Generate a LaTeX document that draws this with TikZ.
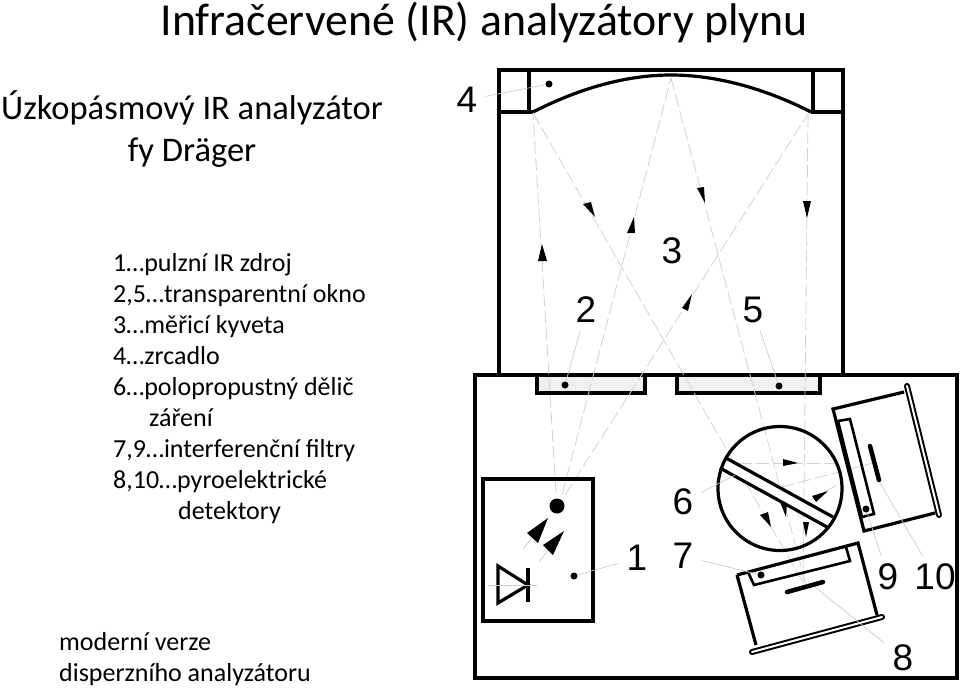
\documentclass[tikz,border=0pt]{standalone}
\usepackage{fontspec}
\setmainfont{Carlito}
\newfontfamily\digitfont{Liberation Sans}
\begin{document}
\begin{tikzpicture}[
    x=1pt, y=-1pt,
    wall/.style={draw=black, line width=3.2pt, line join=miter},
    pane/.style={rectangle, draw=black, line width=3.2pt, fill=gray!12, inner sep=0pt},
    spot/.style={circle, fill=black, inner sep=0pt, minimum size=7pt},
    beam/.style={draw=gray!35, line width=0.8pt, dash pattern=on 13pt off 4pt},
    leader/.style={draw=gray!40, line width=0.7pt},
    head/.style={fill=black},
    num/.style={font=\digitfont\fontsize{37}{37}\selectfont, inner sep=8pt},
    plate/.style={draw=black, line width=2pt, double=white, double distance=2pt, line cap=round},
    bar/.style={draw=black, line width=4.5pt, line cap=round}
]
    \useasboundingbox (0,0) rectangle (960,688);

    % Texts
    \node [font=\fontsize{45.8}{46}\selectfont] (title) at (484,22) {Infračervené (IR) analyzátory plynu};
    \node [font=\fontsize{34.5}{42}\selectfont, align=center] (sub) at (192,129) {Úzkopásmový IR analyzátor\\fy Dräger};
    \node [font=\fontsize{26}{31}\selectfont, align=left, anchor=north west, inner sep=0pt] (legend) at (113,253) {1…pulzní IR zdroj\\2,5…transparentní okno\\3…měřicí kyveta\\4…zrcadlo\\6…polopropustný dělič\\\hspace{36pt}záření\\7,9…interferenční filtry\\8,10…pyroelektrické\\\hspace{65pt}detektory};
    \node [font=\fontsize{26}{31}\selectfont, align=left, anchor=north west, inner sep=0pt] (note) at (59,632) {moderní verze\\disperzního analyzátoru};

    % Ray end points
    \coordinate (srcA) at (556,493);
    \coordinate (srcB) at (562,495);
    \coordinate (srcC) at (565,495);
    \coordinate (mirL) at (533,113);
    \coordinate (mirM) at (671,78);
    \coordinate (mirR) at (808,114);
    \coordinate (endA) at (804,584);
    \coordinate (endB) at (806,585);
    \coordinate (endC) at (803,584);
    \coordinate (hL) at (722,463);
    \coordinate (hR) at (838,463);
    \coordinate (sL) at (782,487);
    \coordinate (sR) at (873,463);
    \coordinate (tL) at (810,500);
    \coordinate (tR) at (837,485);

    % Cuvette and mirror
    \draw [wall] (499,375) -- (499,70) -- (843,70) -- (843,375);
    \draw [wall] (529,70) -- (529,112);
    \draw [wall] (813,70) -- (813,112);
    \draw [wall] (499,112) -- (533,112);
    \draw [wall] (811,112) -- (843,112);
    \draw [wall] (533,112) .. controls (578,89) and (625,75) .. (671,75) .. controls (717,75) and (766,89) .. (811,112);

    % Lower case
    \draw [wall] (475,375) rectangle (957,678);
    \node [pane, minimum width=108pt, minimum height=18pt] (win2) at (591,384) {};
    \node [pane, minimum width=143pt, minimum height=18pt] (win5) at (748.5,384) {};

    % Rays
    \draw [beam] (srcA) -- (mirL);
    \draw [beam] (srcB) -- (mirM);
    \draw [beam] (srcC) -- (mirR);
    \draw [beam] (mirL) -- (endA);
    \draw [beam] (mirM) -- (endB);
    \draw [beam] (mirR) -- (endC);
    \draw [beam] (hL) -- (hR);
    \draw [beam] (sL) -- (sR);
    \draw [beam] (tL) -- (tR);

    % Source block
    \draw [wall] (483,479) rectangle (593,621);
    \node [spot, minimum size=15pt] (source) at (557,506) {};
    \draw [wall] (498,566) -- (498,603) -- (528,585) -- cycle;
    \draw [wall] (528,568) -- (528,602);
    \coordinate (diodeL) at (488,585);
    \coordinate (diodeR) at (537,585);
    \draw [leader] (diodeL) -- (diodeR);
    \coordinate (glowA) at (523,549);
    \coordinate (glowB) at (532,538);
    \coordinate (glowC) at (539,562);
    \coordinate (glowD) at (548,550);
    \draw [leader] (glowA) -- (glowB);
    \draw [leader] (glowC) -- (glowD);

    % Beam splitter
    \coordinate (sploA) at (726,458);
    \coordinate (sploB) at (833,517);
    \coordinate (spluA) at (720,468);
    \coordinate (spluB) at (827,527);
    \fill [white] (sploA) -- (sploB) -- (spluB) -- (spluA) -- cycle;
    \draw [wall] (sploA) -- (sploB);
    \draw [wall] (spluA) -- (spluB);
    \node [circle, draw=black, line width=3.2pt, minimum size=124pt, inner sep=0pt] (splitter) at (780,488.5) {};

    % Detector 9, 10
    \draw [wall] (904,392) -- (833,409) -- (864,531) -- (935,513);
    \draw [plate] (907,386) -- (939,515);
    \draw [wall, line width=2.6pt] (838,421) -- (850,419) -- (874,514) -- (862,517) -- cycle;
    \draw [bar] (870,446) -- (879,480);

    % Detector 7, 8
    \draw [wall] (737,575) -- (858,543) -- (877,615);
    \draw [wall] (737,575) -- (756,645);
    \draw [plate] (752,652) -- (882,617);
    \draw [wall, line width=2.6pt] (748,572) -- (754,585) -- (850,561) -- (846,547);
    \draw [bar] (787,592) -- (823,582);

    % Arrow heads
    \foreach \p/\q/\r in {
        {542,244}/{538,261}/{547,261}, {634,217}/{627,233}/{635,233},
        {692,294}/{682,308}/{688,311}, {595,217}/{583,204}/{591,202},
        {705,203}/{697,188}/{704,187}, {807,218}/{803,201}/{811,201},
        {798,463}/{783,459}/{783,466}, {828,491}/{812,496}/{816,502},
        {786,517}/{780,502}/{787,503}, {771,527}/{760,515}/{768,512},
        {806,537}/{803,522}/{809,522}, {548,518}/{527,533}/{538,543},
        {564,531}/{543,545}/{553,555}}
        \fill [head] (\p) -- (\q) -- (\r) -- cycle;

    % Marker dots
    \node [spot] (d4) at (549,84) {};
    \node [spot] (d2) at (565,385) {};
    \node [spot] (d5) at (779,386) {};
    \node [spot] (d1) at (574,576) {};
    \node [spot] (d7) at (761,575) {};
    \node [spot] (d9) at (866,509) {};
    \coordinate (d6) at (735,475);
    \coordinate (d8) at (815,587);
    \coordinate (d10) at (880,483);

    % Numbers
    \node [num] (n4) at (467,100) {4};
    \node [num] (n2) at (586,310) {2};
    \node [num] (n3) at (672,251) {3};
    \node [num] (n5) at (753,310) {5};
    \node [num] (n1) at (637,558) {1};
    \node [num] (n6) at (683,502) {6};
    \node [num] (n7) at (683,556) {7};
    \node [num] (n8) at (903,658) {8};
    \node [num] (n9) at (888,577) {9};
    \node [num] (n10) at (935,577) {10};

    % Leaders
    \draw [leader] (n4) -- (d4);
    \draw [leader] (n2) -- (d2);
    \draw [leader] (n5) -- (d5);
    \draw [leader] (n1) -- (d1);
    \draw [leader] (n6) -- (d6);
    \draw [leader] (n7) -- (d7);
    \draw [leader] (n8) -- (d8);
    \draw [leader] (n9) -- (d9);
    \draw [leader] (n10) -- (d10);
\end{tikzpicture}
\end{document}
